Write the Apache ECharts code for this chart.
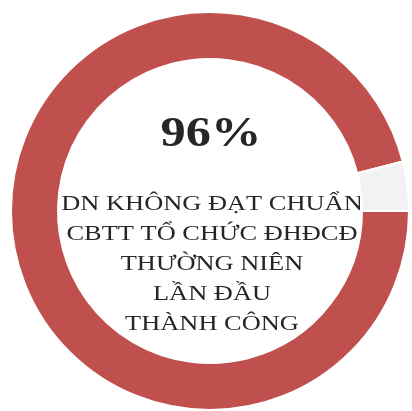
<!DOCTYPE html>
<html>
<head>
<meta charset="utf-8">
<script src="https://cdn.jsdelivr.net/npm/echarts@6/dist/echarts.min.js"></script>
<style>
  html, body { margin: 0; padding: 0; background: #fff; }
  #chart { width: 412px; height: 411px; }
</style>
</head>
<body>
<div id="chart"></div>
<script>
// data
const categories = ['Không đạt chuẩn', 'Đạt chuẩn']
const values = [96, 4]
const colors = ['#c0504d', '#f2f2f2']
const headline = '96%'
const captionLines = ['DN KHÔNG ĐẠT CHUẨN', 'CBTT TỔ CHỨC ĐHĐCĐ', 'THƯỜNG NIÊN', 'LẦN ĐẦU', 'THÀNH CÔNG']

const chart = echarts.init(document.getElementById('chart'))

chart.setOption({
  animation: false,
  series: [{
    type: 'pie',
    silent: true,
    center: [210, 211],
    radius: [152, 199],
    startAngle: 0,
    clockwise: true,
    label: { show: false },
    labelLine: { show: false },
    itemStyle: { borderColor: '#fff', borderWidth: 2 },
    data: categories.map((name, i) => ({
      name: name,
      value: values[i],
      itemStyle: { color: colors[i] }
    }))
  }],
  graphic: [
    {
      type: 'text',
      x: 211, y: 135,
      scaleX: 1.2,
      style: {
        text: headline,
        x: 0, y: 0,
        align: 'center',
        verticalAlign: 'middle',
        font: 'bold 42px "Liberation Serif", serif',
        fill: '#262626'
      }
    },
    {
      type: 'text',
      x: 212, y: 264,
      scaleX: 1.2,
      style: {
        text: captionLines.join('\n'),
        x: 0, y: 0,
        align: 'center',
        verticalAlign: 'middle',
        lineHeight: 30,
        font: '22px "Liberation Serif", serif',
        fill: '#262626'
      }
    }
  ]
})
</script>
</body>
</html>
